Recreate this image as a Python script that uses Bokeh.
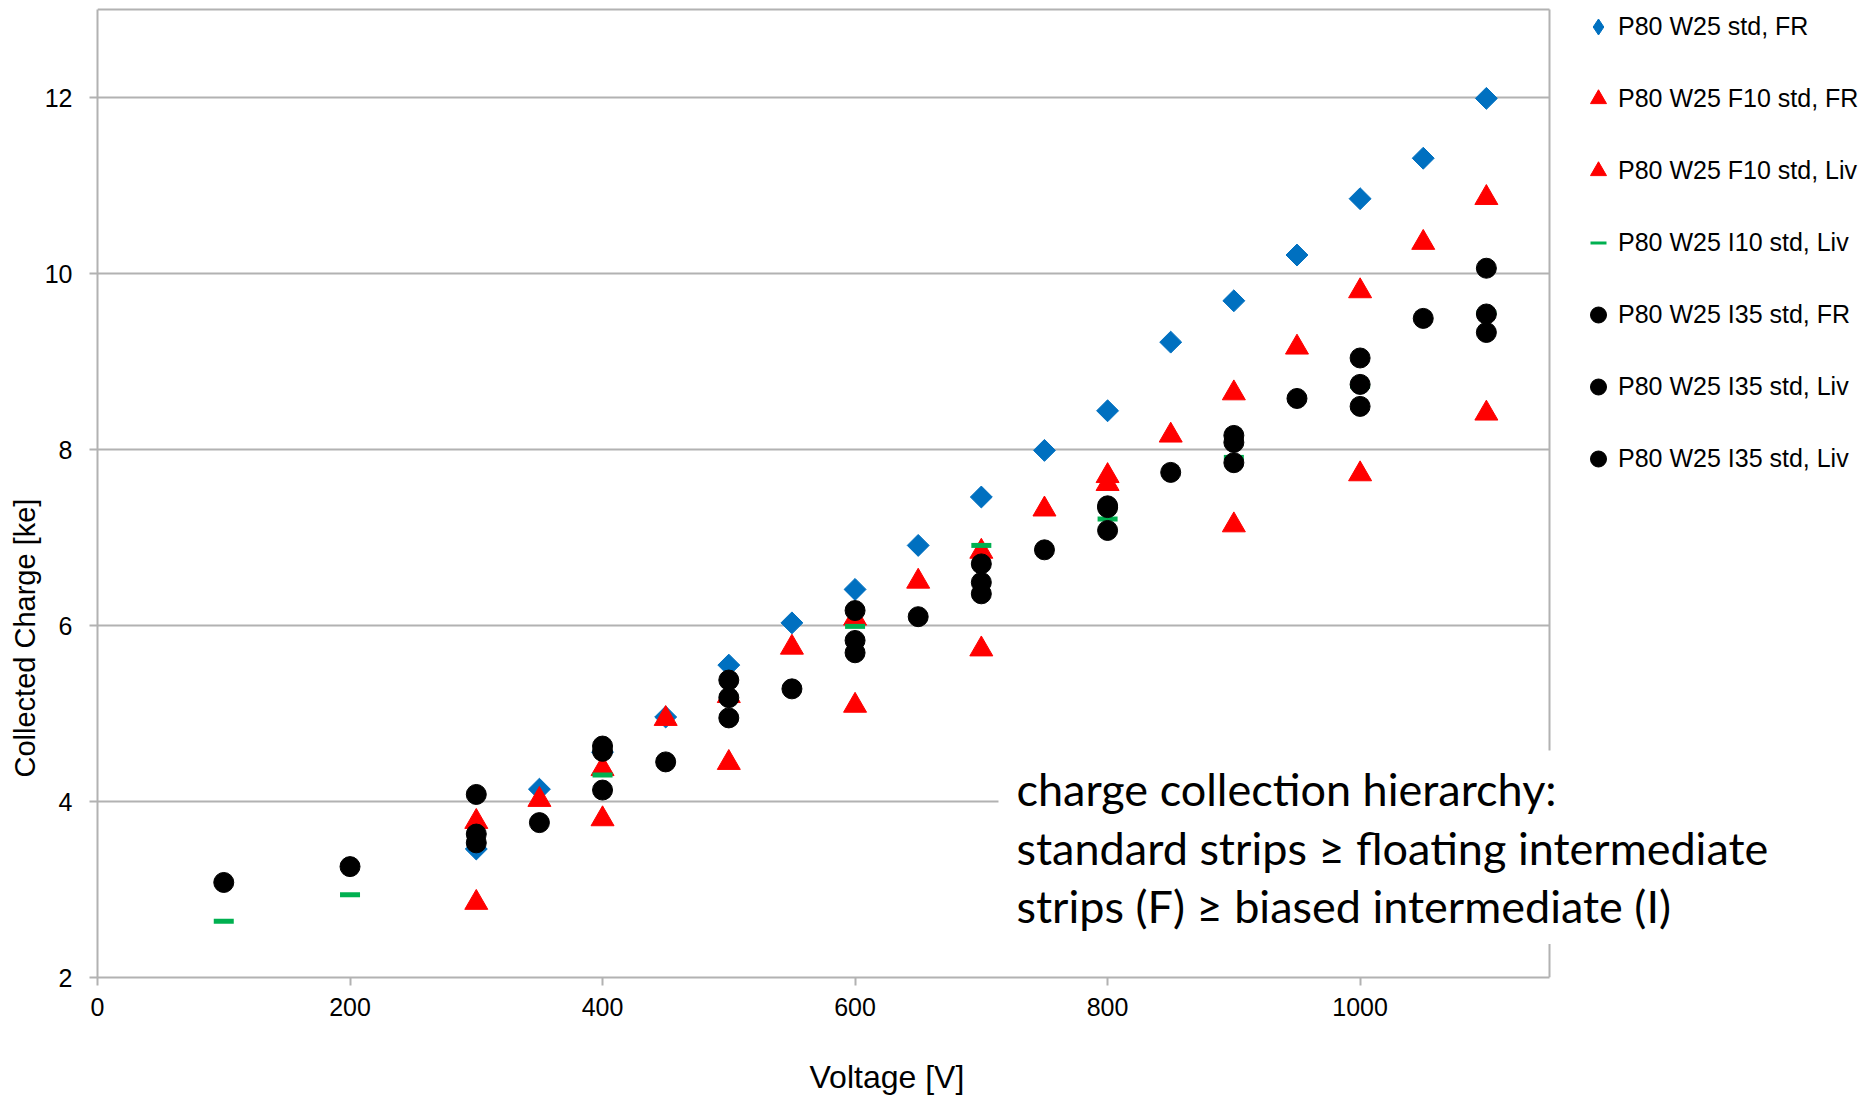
import numpy as np
from bokeh.plotting import figure
from bokeh.models import Range1d, Legend, LegendItem, Label, FixedTicker, Title
from bokeh.embed import file_html
from bokeh.resources import INLINE

# ---- measured collected charge [ke] versus bias voltage [V] ----
std_fr_v = [300, 350, 400, 450, 500, 550, 600, 650, 700, 750, 800, 850, 900, 950, 1000, 1050, 1100]
std_fr_q = [3.46, 4.14, 4.56, 4.96, 5.55, 6.03, 6.41, 6.91, 7.46, 7.99, 8.44, 9.22, 9.69, 10.21, 10.85, 11.31, 11.99]

f10_fr_v = [300, 350, 400, 450, 500, 550, 600, 650, 700, 750, 800, 850, 900, 950, 1000, 1050, 1100]
f10_fr_q = [3.77, 4.02, 4.37, 4.94, 5.20, 5.75, 6.08, 6.50, 6.84, 7.32, 7.70, 8.16, 8.64, 9.16, 9.80, 10.35, 10.86]

f10_liv_v = [300, 400, 500, 600, 700, 800, 900, 1000, 1100]
f10_liv_q = [2.85, 3.80, 4.44, 5.09, 5.73, 7.61, 7.14, 7.72, 8.41]

i10_liv_v = [100, 200, 400, 600, 700, 800, 900, 1000, 1100]
i10_liv_q = [2.64, 2.94, 4.30, 5.99, 6.91, 7.21, 7.91, 8.72, 9.55]

i35_fr_v = [100, 200, 300, 350, 400, 450, 500, 550, 600, 650, 700, 750, 800, 850, 900, 950, 1000, 1050, 1100]
i35_fr_q = [3.08, 3.26, 4.08, 3.76, 4.13, 4.45, 4.95, 5.28, 5.69, 6.10, 6.36, 6.86, 7.08, 7.74, 7.85, 8.58, 8.49, 9.49, 9.33]

i35_liv_a_v = [300, 400, 500, 600, 700, 800, 900, 1000, 1100]
i35_liv_a_q = [3.63, 4.63, 5.38, 6.17, 6.70, 7.36, 8.16, 9.04, 10.06]

i35_liv_b_v = [300, 400, 500, 600, 700, 800, 900, 1000, 1100]
i35_liv_b_q = [3.53, 4.57, 5.18, 5.83, 6.49, 7.34, 8.08, 8.74, 9.54]

x_ticks = [0, 200, 400, 600, 800, 1000]
y_ticks = [2, 4, 6, 8, 10, 12]
x_max = 1150
y_max = 13

labels = [
    "P80 W25 std, FR",
    "P80 W25 F10 std, FR",
    "P80 W25 F10 std, Liv",
    "P80 W25 I10 std, Liv",
    "P80 W25 I35 std, FR",
    "P80 W25 I35 std, Liv",
    "P80 W25 I35 std, Liv",
]

note = ("charge collection hierarchy:\n"
        "standard strips \u2265 floating intermediate\n"
        "strips (F) \u2265 biased intermediate (I)")

BLUE = "#0070C0"
RED = "#FF0000"
GREEN = "#00B050"
BLACK = "#000000"
GRID = "#B2B2B2"

# plotting area: 0..1150 V over 1452 px, 2..13 ke over 968 px; the frame runs on
# to the right page edge so that the legend and the note box are not clipped
PX_PER_V = 1452 / x_max
PX_PER_KE = 88.0
W, H = 1874, 1095
LEFT, BOTTOM = 97, 118
frame_w = W - LEFT
frame_h = H - BOTTOM

p = figure(
    width=W, height=H,
    x_range=Range1d(0, frame_w / PX_PER_V),
    y_range=Range1d(2, 2 + frame_h / PX_PER_KE),
    output_backend="svg", toolbar_location=None,
    min_border_left=LEFT, min_border_right=0,
    min_border_top=0, min_border_bottom=BOTTOM,
)
p.background_fill_color = "white"
p.border_fill_color = "white"
p.outline_line_color = None
p.xgrid.visible = False
p.ygrid.visible = False

# grid lines and the box closing the plot area (top at 13 ke, right at 1150 V)
grid_y = y_ticks[1:] + [y_max]
p.segment(x0=[0] * len(grid_y), y0=grid_y, x1=[x_max] * len(grid_y), y1=grid_y,
          line_color=GRID, line_width=2, level="underlay")
p.segment(x0=[x_max], y0=[y_ticks[0]], x1=[x_max], y1=[y_max],
          line_color=GRID, line_width=2, level="underlay")

p.xaxis.ticker = FixedTicker(ticks=x_ticks)
p.yaxis.ticker = FixedTicker(ticks=y_ticks)
p.xaxis.bounds = (0, x_max)
p.yaxis.bounds = (2, y_max)
for ax in (p.xaxis, p.yaxis):
    ax.axis_line_color = GRID
    ax.axis_line_width = 2
    ax.major_tick_line_color = GRID
    ax.major_tick_line_width = 2
    ax.major_tick_in = 0
    ax.major_tick_out = 8
    ax.minor_tick_line_color = None
    ax.major_label_text_font = "Liberation Sans"
    ax.major_label_text_font_size = "25px"
    ax.major_label_text_color = BLACK
p.xaxis.major_label_standoff = 12
p.yaxis.major_label_standoff = 17

# axis titles as side-panel titles so they can sit off-centre
p.add_layout(Title(text="Voltage [V]", align="left", offset=712,
                   vertical_align="bottom", standoff=0,
                   padding=dict(left=0, right=0, top=38, bottom=0),
                   text_font="Liberation Sans", text_font_size="32px",
                   text_font_style="normal", text_color=BLACK), "below")
p.add_layout(Title(text="Collected Charge [ke]", align="left", offset=200,
                   standoff=2,
                   text_font="Liberation Sans", text_font_size="29px",
                   text_font_style="normal", text_color=BLACK), "left")

DIAMOND = dict(marker="square", angle=np.pi / 4, fill_color=BLUE, line_color=BLUE)
DIAMOND_KEY = dict(marker="diamond", fill_color=BLUE, line_color=BLUE)
TRIANGLE = dict(marker="triangle", fill_color=RED, line_color=RED)
DASH = dict(marker="dash", line_color=GREEN, line_width=5, line_cap="butt")
DASH_KEY = dict(marker="dash", line_color=GREEN, line_width=3, line_cap="butt")
CIRCLE = dict(marker="circle", fill_color=BLACK, line_color=BLACK)

series = [
    (std_fr_v, std_fr_q, DIAMOND, 15.5, DIAMOND_KEY),
    (f10_fr_v, f10_fr_q, TRIANGLE, 23, TRIANGLE),
    (f10_liv_v, f10_liv_q, TRIANGLE, 23, TRIANGLE),
    (i10_liv_v, i10_liv_q, DASH, 20, DASH_KEY),
    (i35_fr_v, i35_fr_q, CIRCLE, 20, CIRCLE),
    (i35_liv_a_v, i35_liv_a_q, CIRCLE, 20, CIRCLE),
    (i35_liv_b_v, i35_liv_b_q, CIRCLE, 20, CIRCLE),
]

items = []
for (xs, ys, style, size, key_style), name in zip(series, labels):
    p.scatter(xs, ys, size=size, **style)
    # undrawn copy of the marker that only serves as the legend key
    key = p.scatter([np.nan], [np.nan], **key_style)
    items.append(LegendItem(label=name, renderers=[key]))

# legend keys are scaled to 0.4 of the glyph box: 40 px box -> 16 px keys
legend = Legend(
    items=items,
    location=(1481, 497),
    orientation="vertical",
    padding=0, margin=0, spacing=29,
    glyph_width=40, glyph_height=43, label_height=43,
    label_standoff=0,
    label_text_font="Liberation Sans", label_text_font_size="25px",
    label_text_color=BLACK,
    border_line_color=None, background_fill_alpha=0,
)
p.add_layout(legend, "center")

p.add_layout(Label(
    x=713.6, y=4.58, x_units="data", y_units="data",
    text=note, text_align="left", text_baseline="top",
    text_font="Lato", text_font_size="45px", text_color=BLACK,
    text_line_height=1.08,
    background_fill_color="white",
    padding=dict(left=18, right=18, top=12, bottom=11),
))

open("out.html", "w").write(file_html(p, INLINE))
